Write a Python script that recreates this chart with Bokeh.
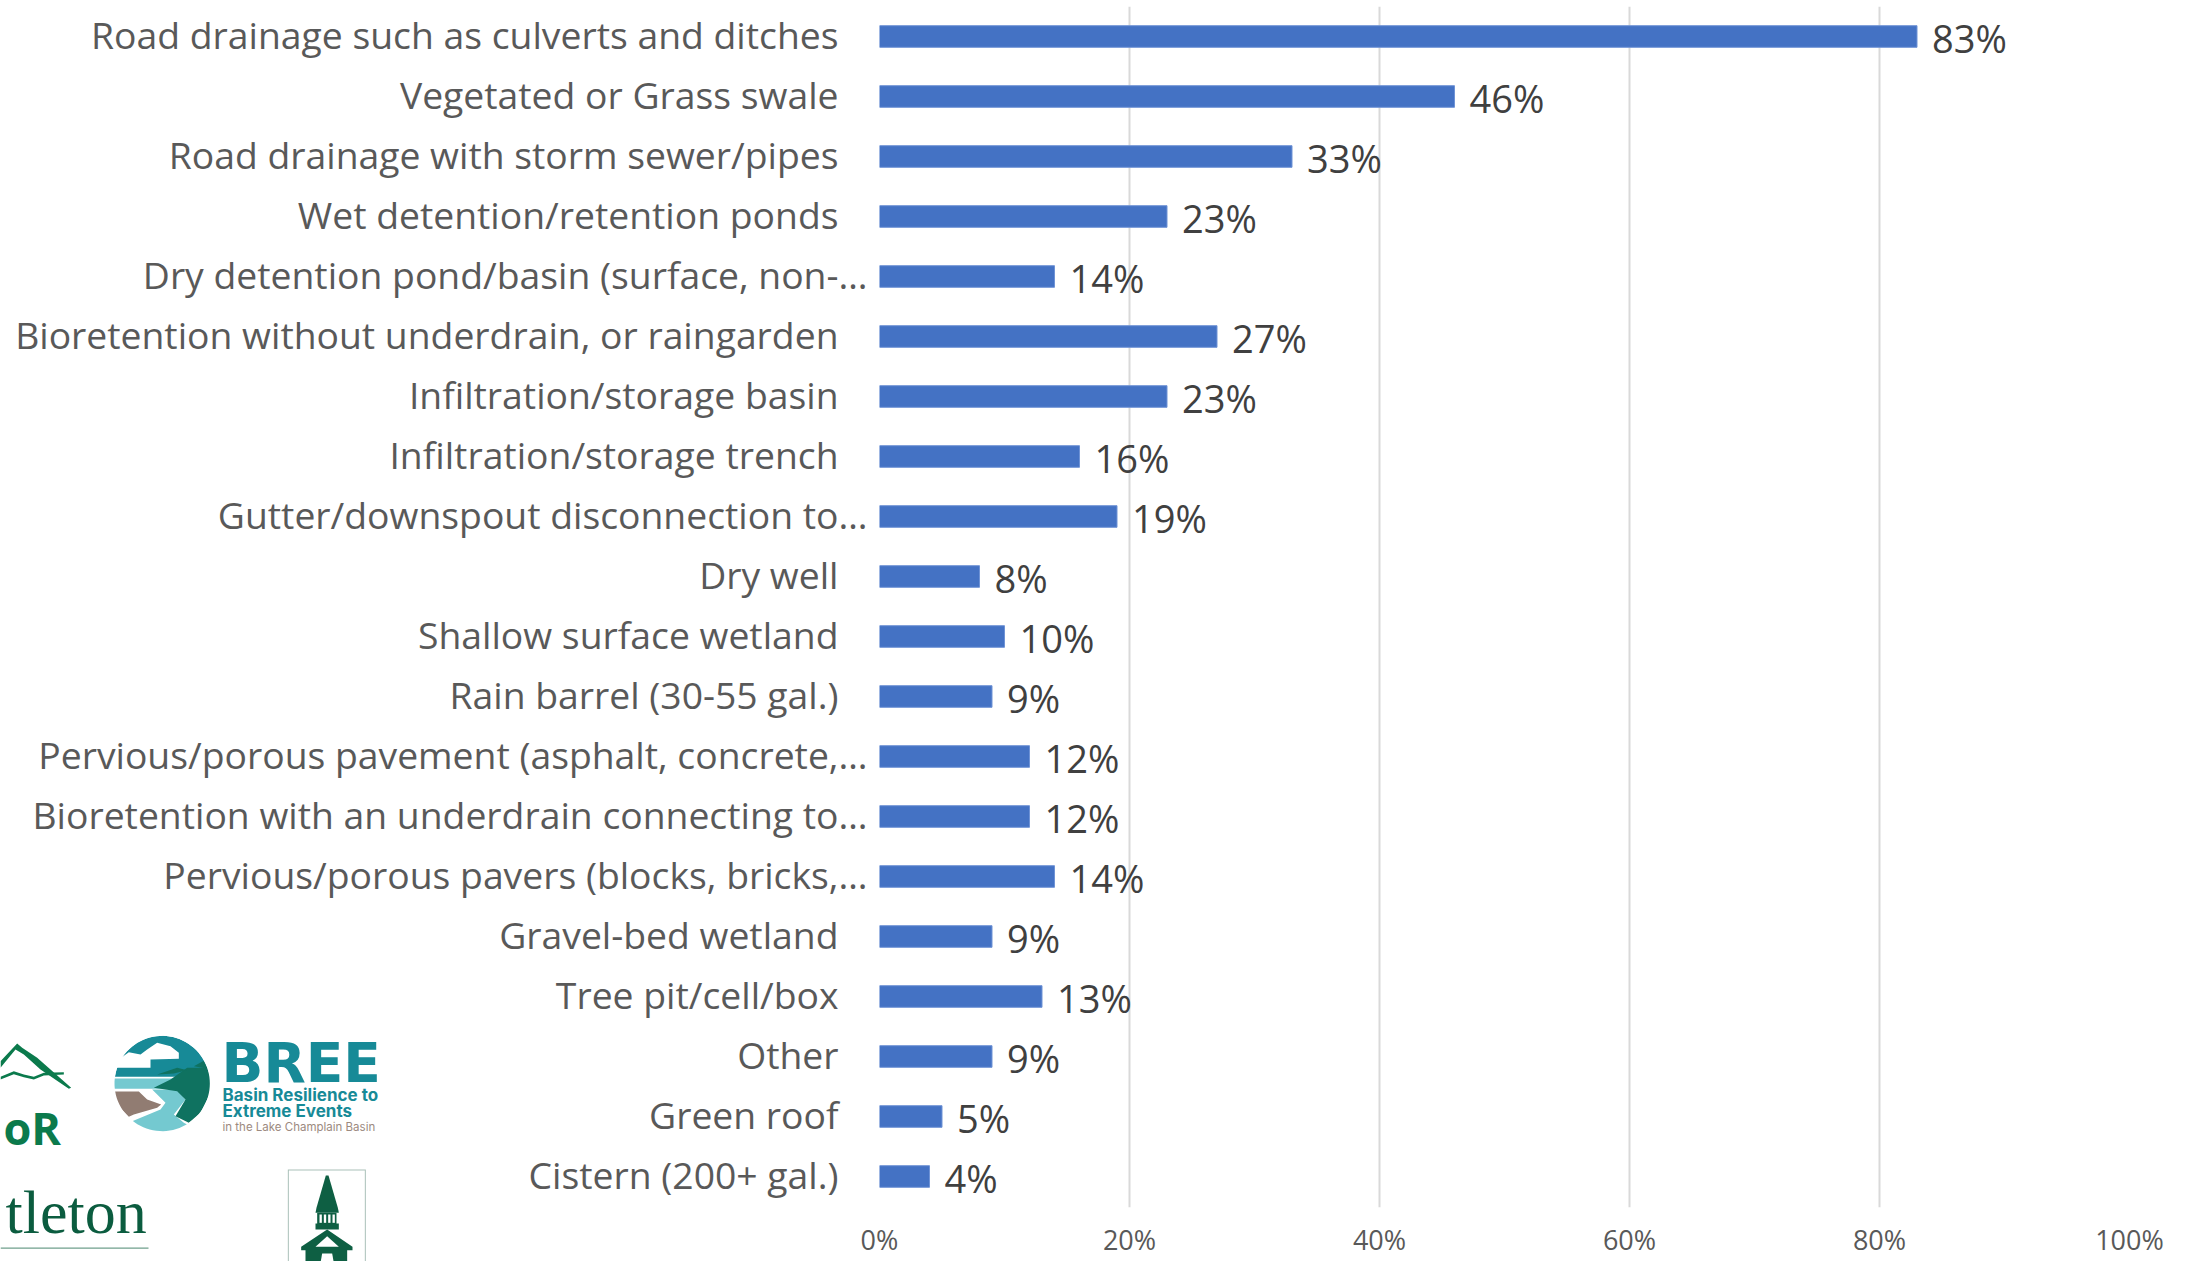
import numpy as np
from bokeh.core.properties import value
from bokeh.embed import file_html
from bokeh.layouts import row
from bokeh.models import ColumnDataSource, LabelSet, NumeralTickFormatter, Range1d
from bokeh.plotting import figure
from bokeh.resources import INLINE

# Practices listed top to bottom, with the share of respondents for each
practices = [
    "Road drainage such as culverts and ditches",
    "Vegetated or Grass swale",
    "Road drainage with storm sewer/pipes",
    "Wet detention/retention ponds",
    "Dry detention pond/basin (surface, non-…",
    "Bioretention without underdrain, or raingarden",
    "Infiltration/storage basin",
    "Infiltration/storage trench",
    "Gutter/downspout disconnection to…",
    "Dry well",
    "Shallow surface wetland",
    "Rain barrel (30-55 gal.)",
    "Pervious/porous pavement (asphalt, concrete,…",
    "Bioretention with an underdrain connecting to…",
    "Pervious/porous pavers (blocks, bricks,…",
    "Gravel-bed wetland",
    "Tree pit/cell/box",
    "Other",
    "Green roof",
    "Cistern (200+ gal.)",
]
shares = [83, 46, 33, 23, 14, 27, 23, 16, 19, 8, 10, 9, 12, 12, 14, 9, 13, 9, 5, 4]
x_ticks = [0, 20, 40, 60, 80, 100]

H = 1261
FONT = "Open Sans"
LEFT_W = 879
TICK_ROOM = 39      # room left of the zero line for half of the "0%" tick label
ROW_H = 60
FIRST_ROW = 36
FRAME_BOTTOM = 1207
NUDGE = 7           # the left panel draws this many pixels low, so its ranges start that much later

rows = list(range(len(practices)))
source = ColumnDataSource(dict(
    row=rows,
    practice=practices,
    share=[s / 100 for s in shares],
    share_label=[f"{s}%" for s in shares],
    # Labels cut short with an ellipsis sit closer to the axis than whole ones
    label_offset=[-12 if t.endswith("…") else -41 for t in practices],
    anchor=[LEFT_W] * len(rows),
))

# Left panel: category names and partner logos, spanning the full page height
side = figure(
    frame_width=LEFT_W, frame_height=H, output_backend="svg", toolbar_location=None,
    x_range=Range1d(0, LEFT_W),
    y_range=Range1d((H - FIRST_ROW + NUDGE) / ROW_H, (NUDGE - FIRST_ROW) / ROW_H),
    x_axis_location=None, y_axis_location=None,
    min_border_left=0, min_border_right=0, min_border_top=0, min_border_bottom=0,
    background_fill_color="white", border_fill_color="white", outline_line_color=None,
    align="start",
)
side.grid.visible = False
side.extra_y_ranges = {"page": Range1d(H + NUDGE, NUDGE)}

side.text(x="anchor", y="row", text="practice", source=source, x_offset="label_offset",
          y_offset=-1, text_align="right", text_baseline="middle", text_font=value(FONT),
          text_font_size="37.3px", text_color="#595959")


def shape(xs, ys, color):
    side.patch([a / 3 for a in xs], [1000 + a / 3 for a in ys], y_range_name="page",
               fill_color=color, line_color=None)


def caption(text, x, y, size, color, font=FONT, style="normal"):
    # The glyph sets its alphabetic baseline about a third of an em below the anchor
    side.text(x=[x], y=[y], text=[text], y_range_name="page", y_offset=-0.36 * size,
              text_font=value(font), text_font_size=f"{size}px", text_color=color,
              text_font_style=style, text_baseline="alphabetic")


TEAL, GREEN, RIVER, BROWN = "#178a97", "#0f7260", "#74c9d0", "#917c72"
cx, cy = 485, 252
theta = np.linspace(0, 2 * np.pi, 90)
shape(list(cx + 143 * np.cos(theta)), list(cy + 143 * np.sin(theta)), TEAL)
shape([320, 385, 420, 440, 470, 510, 535, 535, 450, 450, 320],
      [205, 158, 165, 150, 130, 140, 160, 178, 180, 205, 205], "white")
shape([320, 650, 650, 320], [232, 232, 410, 410], "white")
shape([320, 520, 520, 320], [237, 237, 268, 268], RIVER)
shape([330, 415, 440, 482, 470, 400, 385, 355], [276, 276, 300, 315, 325, 345, 352, 320], BROWN)
shape([395, 480, 495, 455, 530, 555, 520, 550, 565, 480, 420],
      [365, 330, 310, 270, 270, 300, 345, 370, 378, 410, 395], RIVER)
shape([460, 510, 560, 620, 640, 600, 565, 525, 555, 530],
      [265, 240, 205, 205, 260, 340, 370, 350, 300, 275], GREEN)
shape([470, 530, 560, 520], [225, 205, 212, 222], GREEN)
shape([580, 610, 622], [200, 184, 208], GREEN)
ring = np.r_[np.linspace(0, 2 * np.pi, 90), np.linspace(2 * np.pi, 0, 90)]
radius = np.r_[np.full(90, 175.0), np.full(90, 143.0)]
shape(list(cx + radius * np.cos(ring)), list(cy + radius * np.sin(ring)), "white")

caption("BREE", 221, 1083, 55, TEAL, font="DejaVu Sans", style="bold")
caption("Basin Resilience to", 222, 1102, 17, TEAL, font="Inter", style="bold")
caption("Extreme Events", 222, 1118, 17, TEAL, font="Inter", style="bold")
caption("in the Lake Champlain Basin", 222, 1132, 11.5, "#9c8a80", font="Inter")

# Mountain mark above the wordmark
MOSS = "#0b7a4c"
shape([0, 50, 65, 110, 212, 205, 120, 70, 45, 0], [185, 132, 145, 175, 265, 268, 210, 165, 150, 205], MOSS)
shape([0, 40, 70, 100, 130, 190, 190, 130, 100, 70, 40, 0],
      [232, 215, 225, 232, 220, 218, 225, 228, 240, 233, 224, 240], MOSS)
caption("oR", 3, 1144, 45, MOSS, font="Open Sans", style="bold")

# College wordmark with its rule
caption("tleton", 5, 1235, 62, "#0b5c3f", font="Liberation Serif")
shape([0, 444, 444, 0], [744, 744, 748, 748], "#6f9f8c")

# Clock tower emblem in a thin frame
PINE = "#0e5f43"
shape([862, 1096, 1096, 862], [510, 510, 790, 790], "#a9c0b8")
shape([865, 1093, 1093, 865], [513, 513, 790, 790], "white")
shape([976, 984, 1012, 1015, 945, 948], [528, 528, 625, 640, 640, 625], PINE)
shape([950, 1008, 1008, 950], [640, 640, 680, 680], PINE)
for x0 in (957, 970, 983, 996):
    shape([x0, x0 + 7, x0 + 7, x0], [645, 645, 670, 670], "white")
shape([945, 1015, 1015, 945], [672, 672, 690, 690], PINE)
shape([902, 980, 1056, 1056, 1040, 1040, 915, 915, 902],
      [742, 690, 742, 752, 752, 790, 790, 752, 752], PINE)
shape([945, 980, 1015], [742, 710, 742], "white")
shape([965, 995, 1000, 960], [762, 762, 790, 790], "white")

# Right panel: the bars and their percentage axis, overlapping the left panel's edge
p = figure(
    frame_width=1250, frame_height=FRAME_BOTTOM - 6, output_backend="svg", toolbar_location=None,
    x_range=Range1d(0, 1),
    y_range=Range1d((FRAME_BOTTOM - FIRST_ROW) / ROW_H, (6 - FIRST_ROW) / ROW_H),
    y_axis_location=None,
    min_border_left=TICK_ROOM, min_border_right=61, min_border_top=6, min_border_bottom=0,
    background_fill_alpha=0, border_fill_alpha=0, outline_line_color=None,
    margin=(0, 0, 0, -TICK_ROOM), align="start",
)
p.hbar(y="row", right="share", left=0, height=0.36, source=source,
       fill_color="#4472c4", line_color="#6f93d6", line_width=1)

p.ygrid.visible = False
p.xgrid.grid_line_color = "#d9d9d9"
p.xgrid.grid_line_width = 2
p.xgrid.ticker = [t / 100 for t in x_ticks]

ax = p.xaxis[0]
ax.ticker = [t / 100 for t in x_ticks]
ax.formatter = NumeralTickFormatter(format="0%")
ax.axis_line_color = None
ax.major_tick_line_color = None
ax.minor_tick_line_color = None
ax.major_label_standoff = 7
ax.major_label_text_font = FONT
ax.major_label_text_font_size = "27px"
ax.major_label_text_color = "#595959"

p.add_layout(LabelSet(x="share", y="row", text="share_label", source=source, x_offset=15,
                      y_offset=-1, text_align="left", text_baseline="middle",
                      text_font=value(FONT), text_font_size="38px", text_color="#404040"))

open("out.html", "w").write(file_html(row(side, p, spacing=0), INLINE))
